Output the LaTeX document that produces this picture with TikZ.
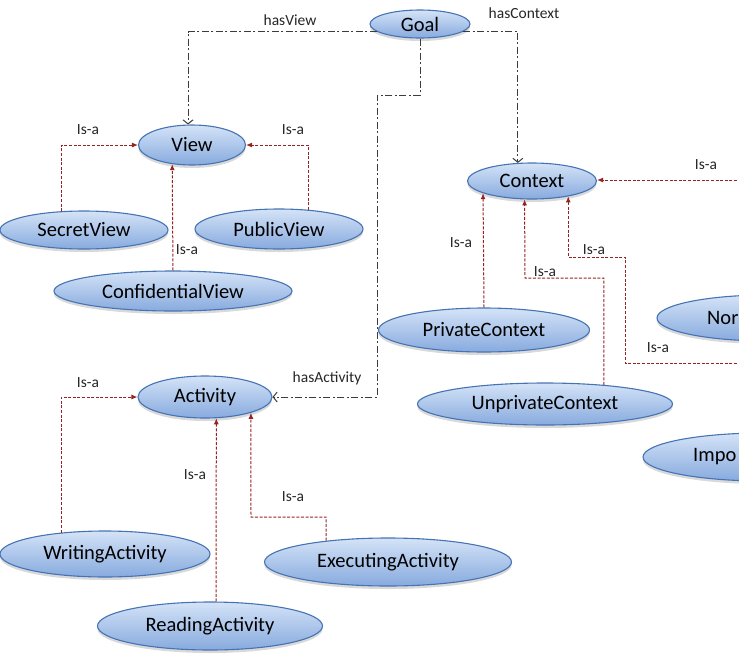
\documentclass[tikz,border=0pt]{standalone}
\usepackage{fontspec}
\setmainfont{Carlito}
\usetikzlibrary{arrows.meta,shapes.geometric,shadows}

\definecolor{clsline}{RGB}{70,115,180}
\definecolor{clstop}{RGB}{212,227,247}
\definecolor{clsmid}{RGB}{226,236,251}
\definecolor{clsbot}{RGB}{135,170,222}
\definecolor{isacol}{RGB}{150,35,35}
\definecolor{relcol}{RGB}{60,60,60}

\tikzset{
  cls/.style={ellipse, draw=clsline, line width=1.1pt, top color=clstop,
    middle color=clsmid, bottom color=clsbot, inner sep=0pt,
    drop shadow={opacity=0.3, shadow xshift=0pt, shadow yshift=-3pt},
    font=\fontsize{20.5}{22}\selectfont},
  isa/.style={draw=isacol, line width=1pt, dash pattern=on 3pt off 1.6pt,
    -{Latex[length=6pt,width=5pt]}},
  rel/.style={draw=relcol, line width=1pt,
    dash pattern=on 7pt off 2.5pt on 2pt off 2.5pt,
    -{Straight Barb[length=4pt,width=10pt]}},
  lbl/.style={inner sep=0pt, text=black!85, font=\fontsize{15.5}{17}\selectfont},
}

\begin{document}
\begin{tikzpicture}[x=1pt,y=-1pt] % goal ontology
\useasboundingbox (0,0) rectangle (739,662);
\clip (0,0) rectangle (739,662);

% classes
\node[cls, minimum width=100pt, minimum height=28pt] (goal) at (420,24) {Goal};
\node[cls, minimum width=107pt, minimum height=40pt] (view) at (192,145) {View};
\node[cls, minimum width=168pt, minimum height=38pt] (secret) at (84,230) {SecretView};
\node[cls, minimum width=168pt, minimum height=40pt] (public) at (279,229) {PublicView};
\node[cls, minimum width=238pt, minimum height=40pt] (conf) at (173,291) {ConfidentialView};
\node[cls, minimum width=129pt, minimum height=36pt] (ctx) at (532,181) {Context};
\node[cls, minimum width=211pt, minimum height=44pt] (priv) at (484,330) {PrivateContext};
\node[cls, minimum width=255pt, minimum height=42pt] (unpriv) at (545,404) {UnprivateContext};
\node[cls, minimum width=220pt, minimum height=46pt] (nor) at (767,318) {};
\node[cls, minimum width=240pt, minimum height=48pt] (impo) at (763,457) {};
\node[cls, minimum width=134pt, minimum height=42pt] (act) at (205,397) {Activity};
\node[cls, minimum width=210pt, minimum height=46pt] (writ) at (105,554) {WritingActivity};
\node[cls, minimum width=225pt, minimum height=48pt] (read) at (210,626) {ReadingActivity};
\node[cls, minimum width=247pt, minimum height=48pt] (exec) at (388,562) {ExecutingActivity};
\node[anchor=west, inner sep=0pt, font=\fontsize{20.5}{22}\selectfont] (norText) at (707,318) {Nor};
\node[anchor=west, inner sep=0pt, font=\fontsize{20.5}{22}\selectfont] (impoText) at (693,457) {Impo};

% incoming Is-a links from the right
\coordinate (ctxIn) at (760,180);
\coordinate (norIn) at (760,363);

% relations of the goal
\draw[rel] (goal.190) -| (view.101);
\draw[rel] (goal.350) -| (ctx.128.5);
\draw[rel] (goal.south) |- (377,95) |- (act.east);
\node[lbl] (lView) at (290,20) {hasView};
\node[lbl] (lCtx) at (524,13) {hasContext};
\node[lbl] (lAct) at (327,378) {hasActivity};

% view hierarchy
\draw[isa] (secret.140) |- (view.west);
\draw[isa] (public.33) |- (view.east);
\draw[isa] (conf.north) -- (view.224.5);
\node[lbl] (l1) at (88,130) {Is-a};
\node[lbl] (l2) at (293,130) {Is-a};
\node[lbl] (l3) at (187,250) {Is-a};

% context hierarchy
\draw[isa] (priv.north) -- (ctx.194);
\draw[isa] (unpriv.18) |- (525,278) -- (ctx.248.6);
\draw[isa] (norIn) -| (625,257) -| (ctx.337.5);
\draw[isa] (ctxIn) -- (ctxIn -| ctx.east);
\node[lbl] (l4) at (461,243) {Is-a};
\node[lbl] (l5) at (545,272) {Is-a};
\node[lbl] (l6) at (594,250) {Is-a};
\node[lbl] (l7) at (706,165) {Is-a};
\node[lbl] (l8) at (658,348) {Is-a};

% activity hierarchy
\draw[isa] (writ.154) |- (act.west);
\draw[isa] (read.76) -- (act.298);
\draw[isa] (exec.161) |- (251,517) -- (act.341.6);
\node[lbl] (l9) at (88,383) {Is-a};
\node[lbl] (l10) at (195,475) {Is-a};
\node[lbl] (l11) at (293,497) {Is-a};
\end{tikzpicture}
\end{document}
